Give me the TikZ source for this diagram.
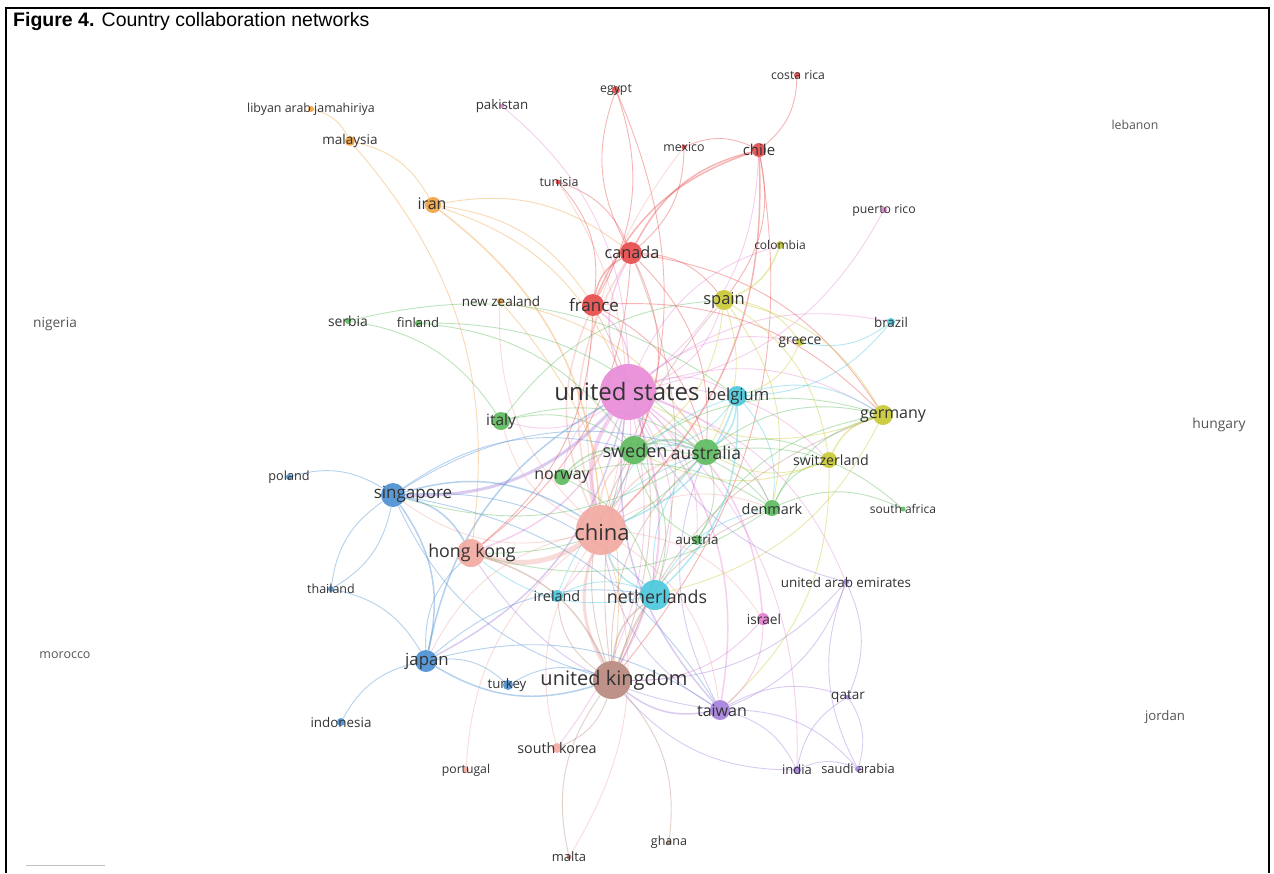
\documentclass[tikz,border=0pt]{standalone}
\usepackage{fontspec}
\setmainfont{Liberation Sans}
\newfontfamily\lblfont{Open Sans}
\pgfdeclarelayer{bg}
\pgfdeclarelayer{fg}
\pgfsetlayers{bg,main,fg}
\definecolor{cUS}{HTML}{E88AD8}
\definecolor{cCN}{HTML}{F2A8A0}
\definecolor{cUK}{HTML}{B8877C}
\definecolor{cGr}{HTML}{5CBA5C}
\definecolor{cCy}{HTML}{48C8DC}
\definecolor{cBl}{HTML}{4A8ED2}
\definecolor{cRd}{HTML}{E84848}
\definecolor{cYe}{HTML}{C8C832}
\definecolor{cOr}{HTML}{F0A040}
\definecolor{cPu}{HTML}{A47EDC}
\definecolor{cPk}{HTML}{E47CD0}
\definecolor{txt}{HTML}{333333}
\definecolor{txtl}{HTML}{555555}
\newcommand{\fz}[1]{\lblfont\fontsize{#1}{#1}\selectfont}
\newcommand{\lk}[4][0.9]{\draw[lnk,draw=#4,line width=#1pt] (#2) to[bend left=24] (#3);}
\tikzset{
  cdot/.style={circle,inner sep=0pt,minimum size=#1,draw=none,fill opacity=0.9},
  lbl/.style={inner sep=0pt,text=txt,anchor=center},
  lnk/.style={draw opacity=0.4}
}
\begin{document}
\begin{tikzpicture}[x=1pt,y=-1pt]
\useasboundingbox (0,0) rectangle (1274,873);
% nodes
\node[cdot=56,fill=cUS] (us) at (628,392) {};
\node[cdot=50,fill=cCN] (china) at (601,530) {};
\node[cdot=38,fill=cUK] (uk) at (612,680) {};
\node[cdot=28,fill=cGr] (sweden) at (634,450) {};
\node[cdot=26,fill=cGr] (australia) at (706,452) {};
\node[cdot=30,fill=cCy] (netherlands) at (655,595) {};
\node[cdot=28,fill=cCN] (hongkong) at (471,553) {};
\node[cdot=24,fill=cBl] (singapore) at (393,495) {};
\node[cdot=22,fill=cBl] (japan) at (426,661) {};
\node[cdot=22,fill=cRd] (france) at (593,305) {};
\node[cdot=22,fill=cRd] (canada) at (631,253) {};
\node[cdot=20,fill=cYe] (spain) at (724,300) {};
\node[cdot=20,fill=cCy] (belgium) at (737,396) {};
\node[cdot=20,fill=cYe] (germany) at (883,415) {};
\node[cdot=18,fill=cGr] (italy) at (501,421) {};
\node[cdot=16,fill=cYe] (switzerland) at (829,460) {};
\node[cdot=16,fill=cGr] (denmark) at (772,508) {};
\node[cdot=16,fill=cGr] (norway) at (562,477) {};
\node[cdot=20,fill=cPu] (taiwan) at (720,710) {};
\node[cdot=16,fill=cOr] (iran) at (433,205) {};
\node[cdot=14,fill=cRd] (chile) at (759,150) {};
\node[cdot=10,fill=cGr] (austria) at (697,540) {};
\node[cdot=12,fill=cCy] (ireland) at (557,596) {};
\node[cdot=12,fill=cPk] (israel) at (763,619) {};
\node[cdot=10,fill=cBl] (turkey) at (508,685) {};
\node[cdot=10,fill=cCN] (southkorea) at (557,748) {};
\node[cdot=10,fill=cOr] (malaysia) at (350,141) {};
\node[cdot=6,fill=cOr] (libyan) at (311,109) {};
\node[cdot=4,fill=cPk] (pakistan) at (502,106) {};
\node[cdot=8,fill=cRd] (egypt) at (616,90) {};
\node[cdot=6,fill=cRd] (costarica) at (797,75) {};
\node[cdot=5,fill=cRd] (mexico) at (684,147) {};
\node[cdot=5,fill=cRd] (tunisia) at (558,182) {};
\node[cdot=6,fill=cPk] (puertorico) at (884,210) {};
\node[cdot=8,fill=cYe] (colombia) at (780,245) {};
\node[cdot=6,fill=cOr] (newzealand) at (500,301) {};
\node[cdot=6,fill=cGr] (serbia) at (348,321) {};
\node[cdot=6,fill=cGr] (finland) at (418,323) {};
\node[cdot=8,fill=cYe] (greece) at (800,342) {};
\node[cdot=8,fill=cCy] (brazil) at (891,322) {};
\node[cdot=6,fill=cBl] (poland) at (289,477) {};
\node[cdot=6,fill=cBl] (thailand) at (331,589) {};
\node[cdot=8,fill=cBl] (indonesia) at (341,722) {};
\node[cdot=6,fill=cCN] (portugal) at (466,770) {};
\node[cdot=5,fill=cUK] (ghana) at (669,842) {};
\node[cdot=5,fill=cUK] (malta) at (569,857) {};
\node[cdot=5,fill=cGr] (southafrica) at (903,509) {};
\node[cdot=6,fill=cPu] (uae) at (846,582) {};
\node[cdot=5,fill=cPu] (qatar) at (848,697) {};
\node[cdot=8,fill=cPu] (india) at (797,770) {};
\node[cdot=6,fill=cPu] (saudi) at (858,769) {};
\node[cdot=1] (nigeria) at (57,324) {};
\node[cdot=1] (lebanon) at (1135,125) {};
\node[cdot=1] (hungary) at (1219,425) {};
\node[cdot=1] (morocco) at (65,655) {};
\node[cdot=1] (jordan) at (1165,717) {};
% background and edges
\begin{pgfonlayer}{bg}
\fill[white] (0,0) rectangle (1274,873);
% united states
\lk[4]{china}{us}{cUS}
\lk[2]{us}{uk}{cUS}
\lk[1.5]{us}{canada}{cUS}
\lk[1.5]{france}{us}{cUS}
\lk[1.5]{us}{sweden}{cUS}
\lk{us}{australia}{cUS}
\lk{us}{belgium}{cUS}
\lk{us}{netherlands}{cUS}
\lk[1.5]{us}{hongkong}{cUS}
\lk[3]{us}{singapore}{cPu}
\lk[1.5]{us}{japan}{cPu}
\lk{us}{italy}{cUS}
\lk{spain}{us}{cUS}
\lk{us}{germany}{cUS}
\lk{us}{switzerland}{cUS}
\lk{us}{denmark}{cUS}
\lk{norway}{us}{cUS}
\lk[1.5]{us}{taiwan}{cUS}
\lk[1.5]{us}{israel}{cUS}
\lk{puertorico}{us}{cUS}
\lk{pakistan}{us}{cUS}
\lk{us}{austria}{cUS}
\lk{us}{ireland}{cUS}
\lk{us}{southkorea}{cUS}
\lk{us}{india}{cUS}
\lk{us}{uae}{cUS}
\lk{chile}{us}{cUS}
\lk{us}{brazil}{cUS}
\lk{us}{colombia}{cUS}
\lk{iran}{us}{cOr}
\lk{us}{greece}{cUS}
% china
\lk[5]{china}{hongkong}{cCN}
\lk[3]{uk}{china}{cCN}
\lk[1.5]{china}{canada}{cCN}
\lk[1.5]{china}{france}{cCN}
\lk[1.5]{china}{sweden}{cCN}
\lk[1.5]{china}{australia}{cCN}
\lk[1.5]{netherlands}{china}{cCy}
\lk{china}{singapore}{cCN}
\lk{japan}{china}{cCN}
\lk{southkorea}{china}{cCN}
\lk{china}{malta}{cCN}
\lk{portugal}{china}{cCN}
\lk{tunisia}{china}{cCN}
\lk{china}{taiwan}{cCN}
\lk{egypt}{china}{cRd}
\lk{china}{mexico}{cCN}
\lk{china}{italy}{cCN}
\lk{china}{belgium}{cCy}
\lk{china}{denmark}{cCN}
\lk{china}{newzealand}{cCN}
\lk{china}{israel}{cCN}
% united kingdom
\lk[1.5]{uk}{netherlands}{cUK}
\lk[1.5]{hongkong}{uk}{cUK}
\lk[1.5]{uk}{japan}{cBl}
\lk[1.5]{taiwan}{uk}{cPu}
\lk{malta}{uk}{cUK}
\lk{uk}{southkorea}{cUK}
\lk{uk}{australia}{cUK}
\lk{uk}{sweden}{cUK}
\lk{canada}{uk}{cUK}
\lk{france}{uk}{cUK}
\lk{uk}{spain}{cUK}
\lk{uk}{ghana}{cUK}
\lk{turkey}{uk}{cBl}
\lk{uk}{singapore}{cBl}
\lk{uk}{denmark}{cUK}
\lk{uk}{ireland}{cUK}
\lk{uk}{germany}{cUK}
% red cluster
\lk[1.5]{france}{canada}{cRd}
\lk[1.5]{canada}{chile}{cRd}
\lk{canada}{egypt}{cRd}
\lk{mexico}{canada}{cRd}
\lk{iran}{canada}{cOr}
\lk{tunisia}{canada}{cRd}
\lk[1.5]{france}{chile}{cRd}
\lk{tunisia}{france}{cRd}
\lk{egypt}{france}{cRd}
\lk{costarica}{chile}{cRd}
\lk{mexico}{chile}{cRd}
\lk[1.5]{chile}{china}{cRd}
\lk{iran}{france}{cOr}
\lk{chile}{uk}{cRd}
\lk{canada}{hongkong}{cRd}
\lk{france}{hongkong}{cRd}
\lk{chile}{spain}{cRd}
\lk{canada}{spain}{cRd}
\lk{canada}{sweden}{cRd}
\lk{france}{australia}{cRd}
\lk{canada}{australia}{cRd}
\lk{france}{germany}{cRd}
\lk{canada}{germany}{cRd}
% orange
\lk{malaysia}{iran}{cOr}
\lk{libyan}{malaysia}{cOr}
\lk{malaysia}{hongkong}{cOr}
\lk[1.5]{iran}{china}{cOr}
\lk{newzealand}{australia}{cOr}
\lk{newzealand}{uk}{cOr}
% green
\lk[2]{sweden}{australia}{cGr}
\lk[1.5]{norway}{sweden}{cGr}
\lk{sweden}{denmark}{cGr}
\lk{finland}{sweden}{cGr}
\lk{italy}{sweden}{cGr}
\lk{australia}{denmark}{cGr}
\lk{denmark}{southafrica}{cGr}
\lk{australia}{austria}{cGr}
\lk{australia}{germany}{cGr}
\lk{australia}{switzerland}{cGr}
\lk{italy}{australia}{cGr}
\lk{serbia}{italy}{cGr}
\lk{serbia}{belgium}{cGr}
\lk{denmark}{switzerland}{cGr}
\lk{austria}{sweden}{cGr}
\lk{finland}{australia}{cGr}
\lk{norway}{denmark}{cGr}
\lk{norway}{australia}{cGr}
\lk{sweden}{netherlands}{cGr}
\lk{australia}{hongkong}{cGr}
\lk{australia}{singapore}{cGr}
\lk{denmark}{hongkong}{cGr}
\lk{sweden}{germany}{cGr}
\lk{australia}{southafrica}{cGr}
\lk{denmark}{germany}{cGr}
\lk{austria}{germany}{cGr}
\lk{norway}{netherlands}{cGr}
\lk{italy}{spain}{cGr}
% cyan
\lk[1.5]{belgium}{netherlands}{cCy}
\lk{brazil}{belgium}{cCy}
\lk[1.5]{belgium}{china}{cCy}
\lk{belgium}{sweden}{cCy}
\lk[1.5]{belgium}{australia}{cCy}
\lk{ireland}{netherlands}{cCy}
\lk{netherlands}{australia}{cCy}
\lk{ireland}{australia}{cCy}
\lk{brazil}{greece}{cCy}
\lk{netherlands}{denmark}{cCy}
\lk{belgium}{denmark}{cCy}
\lk{netherlands}{hongkong}{cCy}
\lk{belgium}{germany}{cCy}
% yellow
\lk[1.5]{colombia}{spain}{cYe}
\lk{spain}{greece}{cYe}
\lk{spain}{germany}{cYe}
\lk{spain}{switzerland}{cYe}
\lk[1.5]{switzerland}{germany}{cYe}
\lk{germany}{us}{cYe}
\lk{greece}{belgium}{cYe}
\lk{spain}{australia}{cYe}
\lk{spain}{sweden}{cYe}
\lk{switzerland}{sweden}{cYe}
\lk{germany}{netherlands}{cYe}
\lk{switzerland}{australia}{cYe}
\lk{spain}{denmark}{cYe}
\lk{switzerland}{taiwan}{cYe}
% blue
\lk{poland}{singapore}{cBl}
\lk{thailand}{singapore}{cBl}
\lk{singapore}{thailand}{cBl}
\lk[1.5]{singapore}{japan}{cBl}
\lk[1.5]{singapore}{hongkong}{cBl}
\lk[1.5]{singapore}{china}{cBl}
\lk{singapore}{australia}{cBl}
\lk{singapore}{netherlands}{cBl}
\lk{indonesia}{japan}{cBl}
\lk{thailand}{japan}{cBl}
\lk{japan}{turkey}{cBl}
\lk{japan}{hongkong}{cBl}
\lk[1.5]{japan}{us}{cBl}
\lk{japan}{taiwan}{cBl}
\lk{japan}{netherlands}{cBl}
\lk{singapore}{taiwan}{cBl}
\lk{singapore}{sweden}{cBl}
% purple / pink
\lk{taiwan}{india}{cPu}
\lk{taiwan}{saudi}{cPu}
\lk{taiwan}{qatar}{cPu}
\lk{uae}{taiwan}{cPu}
\lk[1.5]{taiwan}{us}{cPu}
\lk{taiwan}{china}{cPu}
\lk{qatar}{saudi}{cPu}
\lk{india}{qatar}{cPu}
\lk{uae}{qatar}{cPu}
\lk{india}{saudi}{cPu}
\lk{uae}{us}{cPu}
\lk{saudi}{uae}{cPu}
\lk{israel}{taiwan}{cPk}
\lk{israel}{uk}{cPk}
\lk{india}{uk}{cPu}
\lk{taiwan}{hongkong}{cPu}
\lk{taiwan}{australia}{cPu}
\lk{uae}{uk}{cPu}
\end{pgfonlayer}
% frame, title and labels
\begin{pgfonlayer}{fg}
\draw[line width=2pt,black] (6,873) -- (6,8) -- (1269,8) -- (1269,873);
\draw[black!25,line width=1pt] (26,865) -- (105,865);
\node[anchor=base west,inner sep=0pt,font=\fontsize{19.5}{19.5}\selectfont] (title) at (13,26) {\textbf{Figure 4.} Country collaboration networks};
\node[lbl,font=\fz{24}] (us-l) at (627,391) {united states};
\node[lbl,font=\fz{22}] (china-l) at (602,532) {china};
\node[lbl,font=\fz{20}] (uk-l) at (614,680) {united kingdom};
\node[lbl,font=\fz{18}] (sweden-l) at (635,451) {sweden};
\node[lbl,font=\fz{17.5}] (australia-l) at (706,453) {australia};
\node[lbl,font=\fz{17.8}] (netherlands-l) at (657,597) {netherlands};
\node[lbl,font=\fz{17.8}] (hongkong-l) at (472,553) {hong kong};
\node[lbl,font=\fz{17}] (singapore-l) at (413,494) {singapore};
\node[lbl,font=\fz{16.8}] (japan-l) at (427,661) {japan};
\node[lbl,font=\fz{17}] (france-l) at (594,305) {france};
\node[lbl,font=\fz{16.3}] (canada-l) at (632,252) {canada};
\node[lbl,font=\fz{16.5}] (spain-l) at (724,300) {spain};
\node[lbl,font=\fz{16.6}] (belgium-l) at (738,396) {belgium};
\node[lbl,font=\fz{16}] (germany-l) at (893,416) {germany};
\node[lbl,font=\fz{15.5}] (italy-l) at (501,421) {italy};
\node[lbl,font=\fz{14.2}] (switzerland-l) at (831,460) {switzerland};
\node[lbl,font=\fz{14.4}] (denmark-l) at (772,509) {denmark};
\node[lbl,font=\fz{16}] (norway-l) at (562,477) {norway};
\node[lbl,font=\fz{16}] (taiwan-l) at (722,711) {taiwan};
\node[lbl,font=\fz{16}] (iran-l) at (432,204) {iran};
\node[lbl,font=\fz{15}] (chile-l) at (759,150) {chile};
\node[lbl,font=\fz{13.4}] (austria-l) at (697,540) {austria};
\node[lbl,font=\fz{14.4}] (ireland-l) at (557,596) {ireland};
\node[lbl,font=\fz{13.7}] (israel-l) at (764,619) {israel};
\node[lbl,font=\fz{13.2}] (turkey-l) at (507,685) {turkey};
\node[lbl,font=\fz{14.3}] (southkorea-l) at (557,748) {south korea};
\node[lbl,font=\fz{13.5}] (malaysia-l) at (350,141) {malaysia};
\node[lbl,font=\fz{12.4}] (libyan-l) at (311,109) {libyan arab jamahiriya};
\node[lbl,font=\fz{13.3}] (pakistan-l) at (502,106) {pakistan};
\node[lbl,font=\fz{12.3}] (egypt-l) at (616,90) {egypt};
\node[lbl,font=\fz{12.2}] (costarica-l) at (798,75) {costa rica};
\node[lbl,font=\fz{12.4}] (mexico-l) at (684,147) {mexico};
\node[lbl,font=\fz{12.5}] (tunisia-l) at (559,182) {tunisia};
\node[lbl,font=\fz{12.3}] (puertorico-l) at (884,210) {puerto rico};
\node[lbl,font=\fz{12}] (colombia-l) at (780,245) {colombia};
\node[lbl,font=\fz{13.5}] (newzealand-l) at (501,301) {new zealand};
\node[lbl,font=\fz{13.9}] (serbia-l) at (348,321) {serbia};
\node[lbl,font=\fz{13.1}] (finland-l) at (418,323) {finland};
\node[lbl,font=\fz{13.8}] (greece-l) at (800,342) {greece};
\node[lbl,font=\fz{13.4}] (brazil-l) at (891,322) {brazil};
\node[lbl,font=\fz{13.7},text=txtl] (nigeria-l) at (55,324) {nigeria};
\node[lbl,font=\fz{12.3},text=txtl] (lebanon-l) at (1135,125) {lebanon};
\node[lbl,font=\fz{13.8},text=txtl] (hungary-l) at (1219,425) {hungary};
\node[lbl,font=\fz{12.7}] (poland-l) at (289,477) {poland};
\node[lbl,font=\fz{12.5}] (thailand-l) at (331,589) {thailand};
\node[lbl,font=\fz{12.5},text=txtl] (morocco-l) at (65,655) {morocco};
\node[lbl,font=\fz{13.4}] (indonesia-l) at (341,722) {indonesia};
\node[lbl,font=\fz{12.2}] (portugal-l) at (466,770) {portugal};
\node[lbl,font=\fz{12.5}] (ghana-l) at (669,842) {ghana};
\node[lbl,font=\fz{13}] (malta-l) at (569,857) {malta};
\node[lbl,font=\fz{12}] (southafrica-l) at (903,509) {south africa};
\node[lbl,font=\fz{13.4}] (uae-l) at (846,582) {united arab emirates};
\node[lbl,font=\fz{13.5}] (qatar-l) at (848,697) {qatar};
\node[lbl,font=\fz{13}] (india-l) at (797,770) {india};
\node[lbl,font=\fz{12.9}] (saudi-l) at (858,769) {saudi arabia};
\node[lbl,font=\fz{13.2},text=txtl] (jordan-l) at (1165,717) {jordan};
\end{pgfonlayer}
\end{tikzpicture}
\end{document}
